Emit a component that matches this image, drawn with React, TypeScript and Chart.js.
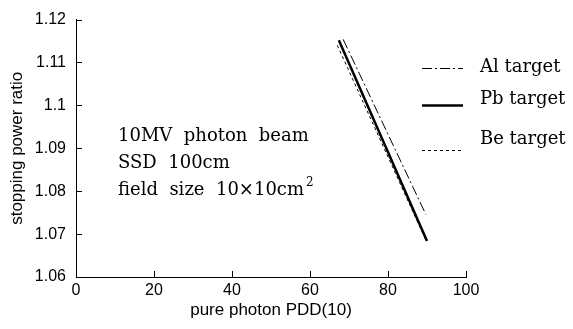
import React, { useEffect, useRef } from "react";
import { Chart, registerables } from "chart.js";

Chart.register(...registerables);

// ---- data ----
const seriesNames = ["Al target", "Pb target", "Be target"];
const alX = [68.5, 89.7];
const alY = [1.1154, 1.0746];
const pbX = [67.4, 90.0];
const pbY = [1.1152, 1.0684];
const beX = [67.0, 89.6];
const beY = [1.114, 1.0688];
const xTickValues = [0, 20, 40, 60, 80, 100];
const yTickValues = [1.06, 1.07, 1.08, 1.09, 1.1, 1.11, 1.12];
const annotationLines = ["10MV  photon  beam", "SSD  100cm", "field  size  10\u00d710cm"];
const annotationSup = "2";
const xTitle = "pure photon PDD(10)";
const yTitle = "stopping power ratio";

const toPoints = (xs: number[], ys: number[]) => xs.map((x, i) => ({ x, y: ys[i] }));

const extrasPlugin = {
  id: "extras",
  afterDraw(chart: any) {
    const ctx = chart.ctx as CanvasRenderingContext2D;
    const { left, bottom } = chart.chartArea;
    const xs = chart.scales.x;
    const ys = chart.scales.y;
    ctx.save();
    ctx.strokeStyle = "#000";
    ctx.lineWidth = 1;
    ctx.beginPath();
    yTickValues.forEach((v) => {
      const y = Math.round(ys.getPixelForValue(v)) + 0.5;
      ctx.moveTo(left, y);
      ctx.lineTo(left + 6, y);
    });
    xTickValues.forEach((v) => {
      const x = Math.round(xs.getPixelForValue(v)) + 0.5;
      ctx.moveTo(x, bottom);
      ctx.lineTo(x, bottom - 6);
    });
    ctx.stroke();

    // annotation text
    ctx.fillStyle = "#000";
    ctx.textAlign = "left";
    ctx.textBaseline = "alphabetic";
    ctx.font = '18px "DejaVu Serif"';
    const baseY = [141, 168, 195];
    annotationLines.forEach((t, i) => ctx.fillText(t, 118, baseY[i]));
    const w = ctx.measureText(annotationLines[2]).width;
    ctx.font = '12px "DejaVu Serif"';
    ctx.fillText(annotationSup, 118 + w + 2, 186);

    // legend
    const legY = [68, 105, 150];
    const textY = [67, 99, 139];
    ctx.font = '18px "DejaVu Serif"';
    ctx.textBaseline = "middle";
    chart.data.datasets.forEach((ds: any, i: number) => {
      ctx.beginPath();
      ctx.setLineDash(ds.borderDash || []);
      ctx.lineWidth = ds.borderWidth;
      ctx.strokeStyle = "#000";
      ctx.moveTo(422, legY[i] + 0.5);
      ctx.lineTo(463, legY[i] + 0.5);
      ctx.stroke();
      ctx.setLineDash([]);
      ctx.fillText(seriesNames[i], 480, textY[i]);
    });
    ctx.restore();
  },
};

export default function App() {
  const ref = useRef<HTMLCanvasElement | null>(null);
  useEffect(() => {
    document.body.style.margin = "0";
    if (!ref.current) return;
    const chart = new Chart(ref.current, {
      type: "line",
      data: {
        datasets: [
          {
            label: seriesNames[0],
            data: toPoints(alX, alY),
            borderColor: "#000",
            borderWidth: 1,
            borderDash: [10, 3, 2, 3],
            pointRadius: 0,
          },
          {
            label: seriesNames[1],
            data: toPoints(pbX, pbY),
            borderColor: "#000",
            borderWidth: 2.5,
            pointRadius: 0,
          },
          {
            label: seriesNames[2],
            data: toPoints(beX, beY),
            borderColor: "#000",
            borderWidth: 1,
            borderDash: [3, 3],
            pointRadius: 0,
          },
        ],
      },
      options: {
        animation: false,
        responsive: false,
        layout: { padding: { top: 14, right: 107, left: 0, bottom: 0 } },
        plugins: { legend: { display: false }, tooltip: { enabled: false } },
        scales: {
          x: {
            type: "linear",
            min: 0,
            max: 100,
            afterBuildTicks: (s: any) => {
              s.ticks = xTickValues.map((v) => ({ value: v }));
            },
            afterFit: (s: any) => {
              s.height = 52;
            },
            grid: { drawOnChartArea: false, drawTicks: false },
            border: { display: true, color: "#000", width: 1 },
            ticks: {
              color: "#000",
              padding: 4,
              maxRotation: 0,
              font: { family: '"Liberation Sans", Arial', size: 16 },
            },
            title: {
              display: true,
              text: xTitle,
              color: "#000",
              padding: { top: 0, bottom: 8 },
              font: { family: '"Liberation Sans", Arial', size: 17 },
            },
          },
          y: {
            type: "linear",
            min: 1.06,
            max: 1.12,
            afterBuildTicks: (s: any) => {
              s.ticks = yTickValues.map((v) => ({ value: v }));
            },
            afterFit: (s: any) => {
              s.width = 76;
            },
            grid: { drawOnChartArea: false, drawTicks: false },
            border: { display: true, color: "#000", width: 1 },
            ticks: {
              color: "#000",
              padding: 10,
              font: { family: '"Liberation Sans", Arial', size: 16 },
              callback: (v: any) => String(+Number(v).toFixed(2)),
            },
            title: {
              display: true,
              text: yTitle,
              color: "#000",
              padding: { top: 7, bottom: 0 },
              font: { family: '"Liberation Sans", Arial', size: 17 },
            },
          },
        },
      },
      plugins: [extrasPlugin],
    });
    return () => chart.destroy();
  }, []);
  return (
    <div style={{ width: 573, height: 329 }}>
      <canvas ref={ref} width={573} height={329} />
    </div>
  );
}
